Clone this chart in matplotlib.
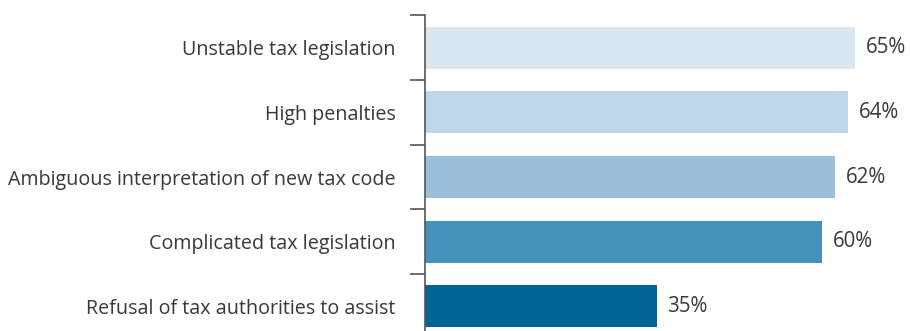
import matplotlib
matplotlib.use("Agg")
import matplotlib.pyplot as plt

categories = [
    "Unstable tax legislation",
    "High penalties",
    "Ambiguous interpretation of new tax code",
    "Complicated tax legislation",
    "Refusal of tax authorities to assist",
]
values = [65, 64, 62, 60, 35]
colors = ["#dae6f0", "#c0d7ea", "#9bbfd9", "#4592bd", "#006596"]

plt.rcParams["font.family"] = ["Open Sans", "DejaVu Sans"]
text_color = "#383838"

fig = plt.figure(figsize=(9.10, 3.31), dpi=100)
ax = fig.add_axes([425 / 910, -7.7 / 331, 1 - 425 / 910, 323.4 / 331])

y = list(range(len(categories)))
ax.barh(y, values, height=0.65, color=colors, zorder=2)

for yi, v in zip(y, values):
    ax.text(v + 1.6, yi, f"{v}%", va="center", ha="left",
            fontsize=14.8, color=text_color)

ax.set_xlim(0, 485 / 6.615)
ax.set_ylim(len(categories) - 0.5, -0.5)

# category labels sit between tick marks drawn at the band edges
ax.set_yticks([i + 0.5 for i in range(-1, len(categories))])
ax.set_yticklabels([])
ax.set_yticks(y, minor=True)
ax.set_yticklabels(categories, minor=True, fontsize=14.2, color=text_color)
ax.tick_params(axis="y", which="major", length=11, width=1.2, color="#555555")
ax.tick_params(axis="y", which="minor", length=0, pad=21)

ax.set_xticks([])
for side in ("top", "right", "bottom"):
    ax.spines[side].set_visible(False)
ax.spines["left"].set_color("#555555")
ax.spines["left"].set_linewidth(1.2)

fig.savefig("out.png", dpi=100)
